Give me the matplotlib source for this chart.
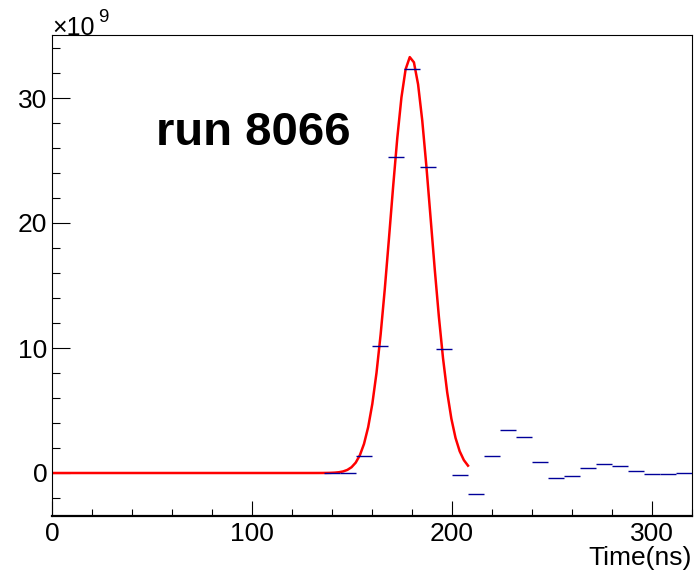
import numpy as np
import matplotlib
matplotlib.use("Agg")
import matplotlib.pyplot as plt
from matplotlib.ticker import MultipleLocator

# histogram: 40 bins of 8 ns from 0 to 320 ns, contents in units of 1e9
bin_edges = np.arange(0, 328, 8)
counts_e9 = [0] * 17 + [
    -0.02, -0.02, 1.34, 10.16, 25.25, 32.3, 24.5, 9.9,
    -0.18, -1.71, 1.33, 3.41, 2.85, 0.85, -0.43, -0.27,
    0.37, 0.69, 0.53, 0.13, -0.11, -0.11, -0.03,
]

# gaussian fit (constant in 1e9, mean ns, sigma ns), fit range
fit_const = 33.3
fit_mean = 179.3
fit_sigma = 10.1
fit_range = (0, 208)

plt.rcParams["font.family"] = ["Liberation Sans", "DejaVu Sans"]

fig = plt.figure(figsize=(6.97, 5.74), dpi=100)
ax = fig.add_axes([52 / 697, 58 / 574, 640 / 697, 481 / 574])

# fit curve (TF1 style, 100 points)
xf = np.linspace(fit_range[0], fit_range[1], 101)
yf = fit_const * np.exp(-0.5 * ((xf - fit_mean) / fit_sigma) ** 2)
ax.plot(xf, yf, color="red", lw=1.8, zorder=2)

# histogram drawn as horizontal error bars, empty bins skipped
centers = (bin_edges[:-1] + bin_edges[1:]) / 2
vals = np.array(counts_e9, dtype=float)
keep = vals != 0
ax.errorbar(centers[keep], vals[keep], xerr=4, fmt="none",
            ecolor="#000099", elinewidth=1.0, capsize=0, zorder=3)

ax.set_xlim(0, 320)
ax.set_ylim(-3.44, 35.04)

ax.xaxis.set_major_locator(MultipleLocator(100))
ax.xaxis.set_minor_locator(MultipleLocator(20))
ax.yaxis.set_major_locator(MultipleLocator(10))
ax.yaxis.set_minor_locator(MultipleLocator(2))

ax.tick_params(axis="both", which="both", direction="in", width=0.8,
               top=False, right=False, labelsize=19, colors="black")
ax.tick_params(axis="x", which="major", length=11, pad=4.5)
ax.tick_params(axis="x", which="minor", length=5.4)
ax.tick_params(axis="y", which="major", length=13, pad=3.5)
ax.tick_params(axis="y", which="minor", length=6)

for s in ["left", "top", "right"]:
    ax.spines[s].set_linewidth(0.8)
ax.spines["bottom"].set_linewidth(1.6)

# axis title and exponent
ax.text(1.0, -0.1025, "Time(ns)", transform=ax.transAxes, ha="right",
        va="baseline", fontsize=19)
ax.text(0.0, 1.0, "\u00d710", transform=ax.transAxes, ha="left",
        va="baseline", fontsize=18)
ax.text(0.0719, 1.027, "9", transform=ax.transAxes, ha="left",
        va="baseline", fontsize=13.5)

ax.text(0.1625, 0.771, "run 8066", transform=ax.transAxes, ha="left",
        va="baseline", fontsize=34, fontweight="bold")

fig.savefig("out.png", dpi=100)
